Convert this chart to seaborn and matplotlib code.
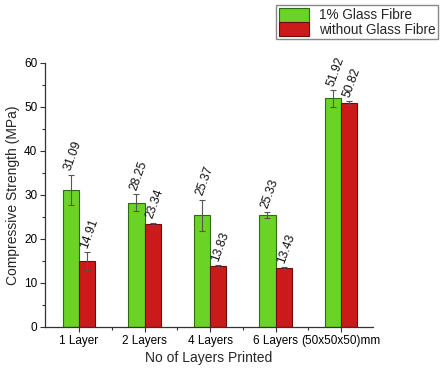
import matplotlib
matplotlib.use("Agg")
import matplotlib.pyplot as plt
from matplotlib.patches import Patch
from matplotlib.ticker import MultipleLocator, FixedLocator
import numpy as np
import pandas as pd
import seaborn as sns

categories = ["1 Layer", "2 Layers", "4 Layers", "6 Layers", "(50x50x50)mm"]
series_names = ["1% Glass Fibre", "without Glass Fibre"]
with_fibre = [31.09, 28.25, 25.37, 25.33, 51.92]
without_fibre = [14.91, 23.34, 13.83, 13.43, 50.82]
with_fibre_err = [3.5, 1.9, 3.5, 0.7, 1.9]
without_fibre_err = [2.0, 0.3, 0.2, 0.2, 0.5]

face_colors = ["#6ad325", "#cc1a1a"]
edge_colors = ["#2f6b10", "#6e0c0c"]

df = pd.DataFrame({
    "Layers": categories * 2,
    "Series": [series_names[0]] * len(categories) + [series_names[1]] * len(categories),
    "Strength": with_fibre + without_fibre,
    "Err": with_fibre_err + without_fibre_err,
})

sns.set_style("ticks")
plt.rcParams["font.family"] = ["Liberation Sans", "DejaVu Sans"]

fig = plt.figure(figsize=(4.41, 3.74), dpi=100)
ax = fig.add_axes([0.102, 0.126, 0.744, 0.706])

sns.barplot(data=df, x="Layers", y="Strength", hue="Series", order=categories,
            hue_order=series_names, palette=face_colors, saturation=1,
            width=0.5, gap=0, errorbar=None, legend=False, ax=ax, linewidth=0.8)

# Colour edges, add error bars and rotated value labels per series
bar_groups = list(ax.containers)
for i, cont in enumerate(bar_groups):
    vals = with_fibre if i == 0 else without_fibre
    errs = with_fibre_err if i == 0 else without_fibre_err
    for bar, v, e in zip(cont.patches, vals, errs):
        bar.set_edgecolor(edge_colors[i])
        xc = bar.get_x() + bar.get_width() / 2
        ax.errorbar(xc, v, yerr=e, fmt="none", ecolor="#555555",
                    elinewidth=0.8, capsize=2.5, capthick=0.8, zorder=3)
        ax.text(xc - 0.04, v + e + 1.0, f"{v:.2f}", rotation=70,
                rotation_mode="anchor", ha="left", va="center", fontsize=8.8,
                color="#111111")

ax.set_xlim(-0.52, 4.49)
ax.set_ylim(0, 60)
ax.yaxis.set_major_locator(MultipleLocator(10))
ax.yaxis.set_minor_locator(MultipleLocator(5))
ax.xaxis.set_minor_locator(FixedLocator([0.5, 1.5, 2.5, 3.5]))
ax.tick_params(axis="both", which="major", length=3.5, width=0.8,
               labelsize=8.5, colors="#333333", labelcolor="black", pad=2)
ax.tick_params(axis="both", which="minor", length=2, width=0.8, colors="#333333")
for side in ["top", "right"]:
    ax.spines[side].set_visible(False)
for side in ["left", "bottom"]:
    ax.spines[side].set_color("#333333")
    ax.spines[side].set_linewidth(0.9)

ax.set_xlabel("No of Layers Printed", fontsize=10, labelpad=3)
ax.set_ylabel("Compressive Strength (MPa)", fontsize=10, labelpad=3)

handles = [Patch(facecolor=face_colors[k], edgecolor=edge_colors[k], linewidth=0.8)
           for k in range(2)]
fig.legend(handles, series_names, loc="upper right",
           bbox_to_anchor=(0.993, 0.987), fontsize=9.8, frameon=True,
           fancybox=False, edgecolor="#888888", framealpha=1,
           handlelength=2.2, handleheight=1.2, labelspacing=0.0,
           handletextpad=0.7, borderpad=0.2, borderaxespad=0)

fig.savefig("out.png", dpi=100)
